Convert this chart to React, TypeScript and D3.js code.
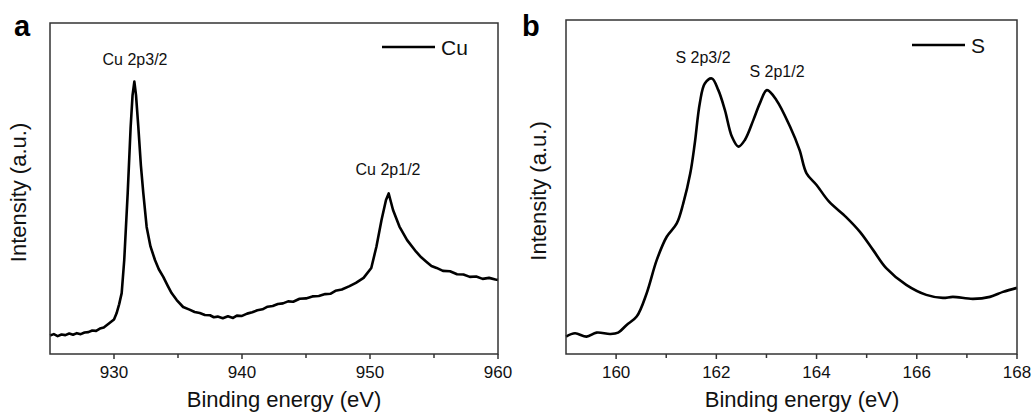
import React from "react";
import * as d3 from "d3";

const cuEnergy = [
  925.0, 925.3, 925.6, 925.9, 926.2, 926.5, 926.8, 927.1, 927.4, 927.7, 928.0, 928.3, 928.6, 928.9,
  929.2, 929.5, 929.8, 930.0, 930.2, 930.4, 930.6, 930.8, 931.07, 931.3, 931.45, 931.59, 931.72,
  931.9, 932.1, 932.29, 932.55, 932.85, 933.2, 933.5, 933.85, 934.2, 934.5, 934.9, 935.4, 935.9,
  936.3, 936.7, 937.1, 937.5, 937.8, 938.1, 938.5, 938.9, 939.3, 939.6, 940.0, 940.4, 940.8, 941.2,
  941.6, 942.0, 942.4, 942.8, 943.2, 943.6, 944.0, 944.5, 945.0, 945.5, 946.0, 946.5, 946.9, 947.3,
  947.8, 948.4, 948.9, 949.5, 950.1, 950.5, 950.9, 951.25, 951.46, 951.8, 952.3, 952.9, 953.6,
  954.0, 954.4, 954.8, 955.2, 955.7, 956.25, 956.8, 957.3, 957.8, 958.3, 958.8, 959.3, 959.8, 960.0,
];
const cuIntensity = [
  5.6, 6.0, 5.4, 5.9, 5.7, 6.2, 5.8, 6.3, 6.0, 6.5, 6.6, 7.1, 7.0, 7.7,
  8.0, 8.9, 9.8, 10.4, 12.3, 15.0, 18.4, 28.4, 48.6, 68.6, 78.2, 82.3, 78.2,
  68.6, 57.0, 48.6, 38.4, 32.5, 28.4, 25.6, 23.3, 20.6, 18.4, 16.3, 14.2, 13.4,
  12.7, 12.4, 11.8, 11.7, 11.1, 11.3, 10.8, 11.4, 10.9, 11.6, 11.5, 12.2, 12.6, 13.2,
  13.5, 14.3, 14.5, 15.1, 15.3, 15.9, 15.8, 16.7, 16.8, 17.4, 17.5, 18.1, 18.2, 19.1,
  19.5, 20.5, 21.5, 23.0, 26.0, 32.4, 40.5, 46.5, 48.5, 43.5, 38.5, 34.4, 30.9,
  29.2, 27.9, 26.6, 26.0, 25.1, 25.0, 24.1, 24.0, 23.3, 23.4, 22.7, 23.0, 22.5, 22.4,
];

const sEnergy = [
  159.0, 159.18, 159.41, 159.61, 159.88, 160.04, 160.21, 160.41, 160.61, 160.81, 161.01, 161.21,
  161.34, 161.48, 161.57, 161.67, 161.77, 161.91, 162.04, 162.17, 162.31, 162.44, 162.57, 162.74,
  162.87, 163.01, 163.2, 163.47, 163.66, 163.8, 164.0, 164.25, 164.59, 164.87, 165.13,
  165.39, 165.79, 166.19, 166.52, 166.72, 167.12, 167.46, 167.72, 168.0,
];
const sIntensity = [
  5.2, 6.2, 5.2, 6.4, 6.0, 6.4, 8.7, 11.2, 18.2, 28.1, 35.1, 39.1,
  45.1, 54.1, 63.1, 75.1, 81.0, 82.5, 79.0, 73.1, 65.1, 62.1, 64.1, 70.1,
  75.1, 79.0, 76.0, 68.1, 61.1, 54.1, 50.6, 45.6, 41.0, 36.5, 31.1,
  25.7, 20.7, 17.7, 16.8, 17.1, 16.5, 17.1, 18.6, 19.8,
];

const cuTicks = [930, 940, 950, 960];
const cuMinorTicks = [935, 945, 955];
const sTicks = [160, 162, 164, 166, 168];
const sMinorTicks = [161, 163, 165, 167];

const cuPeaks = ["Cu 2p3/2", "Cu 2p1/2"];
const sPeaks = ["S 2p3/2", "S 2p1/2"];

const FONT = "'Liberation Sans', Arial, Helvetica, sans-serif";

type PanelProps = {
  letter: string;
  energy: number[];
  intensity: number[];
  domain: [number, number];
  ticks: number[];
  minor: number[];
  left: number;
  right: number;
  top: number;
  bottom: number;
  legend: string;
  legendX: number;
  legendY: number;
  peaks: string[];
  peakPos: [number, number][];
  letterX: number;
  yLabelX: number;
  titleX: number;
  smooth: boolean;
};

function Panel(p: PanelProps) {
  const x = d3.scaleLinear().domain(p.domain).range([p.left, p.right]);
  const y = d3.scaleLinear().domain([0, 100]).range([p.bottom, p.top]);
  const pts: [number, number][] = p.energy.map((e, i) => [e, p.intensity[i]]);
  const line = d3
    .line<[number, number]>()
    .x((d) => x(d[0]))
    .y((d) => y(d[1]))
    .curve(p.smooth ? d3.curveCatmullRom.alpha(0.5) : d3.curveLinear);
  const yMid = (p.top + p.bottom) / 2;
  return (
    <g>
      <text x={p.letterX} y={36} fontFamily={FONT} fontWeight="bold" fontSize={29} fill="#000">
        {p.letter}
      </text>
      <path d={line(pts) || ""} fill="none" stroke="#000" strokeWidth={2.6} strokeLinejoin="round" />
      <rect
        x={p.left}
        y={p.top}
        width={p.right - p.left}
        height={p.bottom - p.top}
        fill="none"
        stroke="#333"
        strokeWidth={1.5}
      />
      {p.ticks.map((t) => (
        <g key={"t" + t}>
          <line x1={x(t)} x2={x(t)} y1={p.bottom} y2={p.bottom + 5} stroke="#333" strokeWidth={1.5} />
          <text x={x(t)} y={378} textAnchor="middle" fontFamily={FONT} fontSize={17} fill="#111">
            {t}
          </text>
        </g>
      ))}
      {p.minor.map((t) => (
        <line key={"m" + t} x1={x(t)} x2={x(t)} y1={p.bottom} y2={p.bottom + 4} stroke="#333" strokeWidth={1.5} />
      ))}
      <text x={p.titleX} y={407} textAnchor="middle" fontFamily={FONT} fontSize={22} fill="#111">
        Binding energy (eV)
      </text>
      <text
        transform={`translate(${p.yLabelX},${yMid + 4}) rotate(-90)`}
        textAnchor="middle"
        fontFamily={FONT}
        fontSize={22}
        fill="#111"
      >
        Intensity (a.u.)
      </text>
      <line x1={p.legendX} x2={p.legendX + 53} y1={p.legendY} y2={p.legendY} stroke="#000" strokeWidth={2.6} />
      <text x={p.legendX + 59} y={p.legendY + 7.5} fontFamily={FONT} fontSize={21} fill="#111">
        {p.legend}
      </text>
      {p.peaks.map((lab, i) => (
        <text
          key={lab}
          x={p.peakPos[i][0]}
          y={p.peakPos[i][1]}
          textAnchor="middle"
          fontFamily={FONT}
          fontSize={16}
          fill="#111"
        >
          {lab}
        </text>
      ))}
    </g>
  );
}

export default function App() {
  return (
    <svg
      width={1033}
      height={412}
      style={{ position: "absolute", left: 0, top: 0, background: "#fff" }}
    >
      <rect x={0} y={0} width={1033} height={412} fill="#fff" />
      <Panel
        letter="a"
        energy={cuEnergy}
        intensity={cuIntensity}
        domain={[925, 960]}
        ticks={cuTicks}
        minor={cuMinorTicks}
        left={50}
        right={498}
        top={23}
        bottom={354}
        legend="Cu"
        legendX={382}
        legendY={47}
        peaks={cuPeaks}
        peakPos={[
          [135, 65],
          [388, 175],
        ]}
        letterX={14}
        yLabelX={26}
        titleX={284}
        smooth={false}
      />
      <Panel
        letter="b"
        energy={sEnergy}
        intensity={sIntensity}
        domain={[159, 168]}
        ticks={sTicks}
        minor={sMinorTicks}
        left={566}
        right={1017}
        top={20}
        bottom={354}
        legend="S"
        legendX={912}
        legendY={45}
        peaks={sPeaks}
        peakPos={[
          [703, 63],
          [777, 77],
        ]}
        letterX={522}
        yLabelX={546}
        titleX={802}
        smooth={true}
      />
    </svg>
  );
}
